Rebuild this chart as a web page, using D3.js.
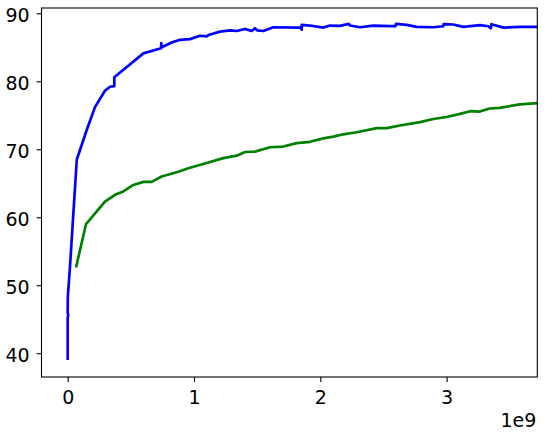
<!DOCTYPE html>
<html>
<head>
<meta charset="utf-8">
<script src="https://cdn.jsdelivr.net/npm/d3@7"></script>
<style>
  html, body { margin: 0; padding: 0; background: #fff; }
  svg { display: block; }
  text { font-family: "DejaVu Sans", sans-serif; fill: #000; }
</style>
</head>
<body>
<svg id="chart" width="545" height="436"></svg>
<script>
// Values in units of 1e9 on x
const blueX = [0, 0, 0.004, 0, 0.001, 0.018, 0.072, 0.150, 0.216, 0.295, 0.335, 0.369, 0.369, 0.599, 0.739, 0.741, 0.745, 0.823, 0.889, 0.968, 1.047, 1.10, 1.115, 1.206, 1.285, 1.338, 1.404, 1.457, 1.483, 1.50, 1.549, 1.628, 1.839, 1.853, 1.853, 1.918, 2.024, 2.077, 2.156, 2.225, 2.235, 2.314, 2.42, 2.55, 2.595, 2.60, 2.684, 2.763, 2.895, 2.974, 2.976, 3.053, 3.132, 3.264, 3.33, 3.35, 3.355, 3.45, 3.58, 3.72];
const blueY = [39.0, 45.2, 45.6, 46.0, 48.3, 52.7, 68.5, 72.8, 76.2, 78.6, 79.2, 79.3, 80.6, 84.1, 84.85, 85.6, 85.0, 85.7, 86.1, 86.2, 86.7, 86.6, 86.8, 87.3, 87.5, 87.4, 87.7, 87.4, 87.8, 87.5, 87.4, 87.95, 87.9, 87.6, 88.3, 88.2, 87.9, 88.2, 88.15, 88.45, 88.2, 87.95, 88.2, 88.1, 88.1, 88.45, 88.3, 88.0, 87.95, 88.1, 88.4, 88.35, 88.0, 88.25, 88.1, 87.8, 88.4, 87.9, 88.0, 88.0];

const greenX = [0.066, 0.145, 0.295, 0.375, 0.44, 0.52, 0.6, 0.665, 0.744, 0.876, 0.955, 1.087, 1.232, 1.338, 1.404, 1.483, 1.602, 1.707, 1.813, 1.918, 2.024, 2.103, 2.182, 2.288, 2.447, 2.526, 2.63, 2.79, 2.895, 3.0, 3.107, 3.186, 3.264, 3.34, 3.42, 3.58, 3.72];
const greenY = [52.6, 59.0, 62.3, 63.3, 63.8, 64.75, 65.2, 65.2, 66.0, 66.7, 67.2, 67.9, 68.7, 69.06, 69.6, 69.65, 70.3, 70.4, 70.9, 71.1, 71.6, 71.85, 72.2, 72.5, 73.1, 73.1, 73.5, 74.0, 74.45, 74.75, 75.2, 75.6, 75.55, 76.0, 76.1, 76.6, 76.8];

const xTicks = [0, 1, 2, 3];
const yTicks = [40, 50, 60, 70, 80, 90];
const xOffsetLabel = "1e9";

const margin = { left: 41.5, right: 545 - 537.3, top: 8, bottom: 436 - 377 };
const W = 545, H = 436;

const x = d3.scaleLinear().domain([-0.2074, 3.718]).range([margin.left, W - margin.right]);
const y = d3.scaleLinear().domain([36.5, 90.78]).range([H - margin.bottom, margin.top]);

const svg = d3.select("#chart");

svg.append("defs").append("clipPath").attr("id", "clip")
  .append("rect")
  .attr("x", x.range()[0]).attr("y", y.range()[1])
  .attr("width", x.range()[1] - x.range()[0])
  .attr("height", y.range()[0] - y.range()[1]);

const line = d3.line().x(d => x(d[0])).y(d => y(d[1]));

const blue = blueX.map((v, i) => [v, blueY[i]]);
const green = greenX.map((v, i) => [v, greenY[i]]);

const plot = svg.append("g").attr("clip-path", "url(#clip)");
plot.append("path").datum(blue).attr("d", line)
  .attr("fill", "none").attr("stroke", "#0000ff").attr("stroke-width", 2.7)
  .attr("stroke-linejoin", "round").attr("stroke-linecap", "butt");
plot.append("path").datum(green).attr("d", line)
  .attr("fill", "none").attr("stroke", "#008000").attr("stroke-width", 2.7)
  .attr("stroke-linejoin", "round").attr("stroke-linecap", "butt");

const fs = 19;
const xAxis = d3.axisBottom(x).tickValues(xTicks).tickFormat(d3.format("d"))
  .tickSize(4.9).tickPadding(8.5);
const yAxis = d3.axisLeft(y).tickValues(yTicks).tickFormat(d3.format("d"))
  .tickSize(4.9).tickPadding(7);

const gx = svg.append("g").attr("transform", `translate(0,${y.range()[0]})`).call(xAxis);
const gy = svg.append("g").attr("transform", `translate(${x.range()[0]},0)`).call(yAxis);

[gx, gy].forEach(g => {
  g.select(".domain").remove();
  g.selectAll(".tick line").attr("stroke", "#000").attr("stroke-width", 1.1);
  g.selectAll(".tick text").attr("font-size", fs)
    .attr("font-family", "'DejaVu Sans', sans-serif").attr("fill", "#000");
});
gy.selectAll(".tick text").attr("dy", "0.42em");

// spines (box)
svg.append("rect")
  .attr("x", x.range()[0]).attr("y", y.range()[1])
  .attr("width", x.range()[1] - x.range()[0])
  .attr("height", y.range()[0] - y.range()[1])
  .attr("fill", "none").attr("stroke", "#000").attr("stroke-width", 1.1);

svg.append("text")
  .attr("x", x.range()[1] - 1).attr("y", 426.5)
  .attr("text-anchor", "end").attr("font-size", fs)
  .text(xOffsetLabel);
</script>
</body>
</html>
